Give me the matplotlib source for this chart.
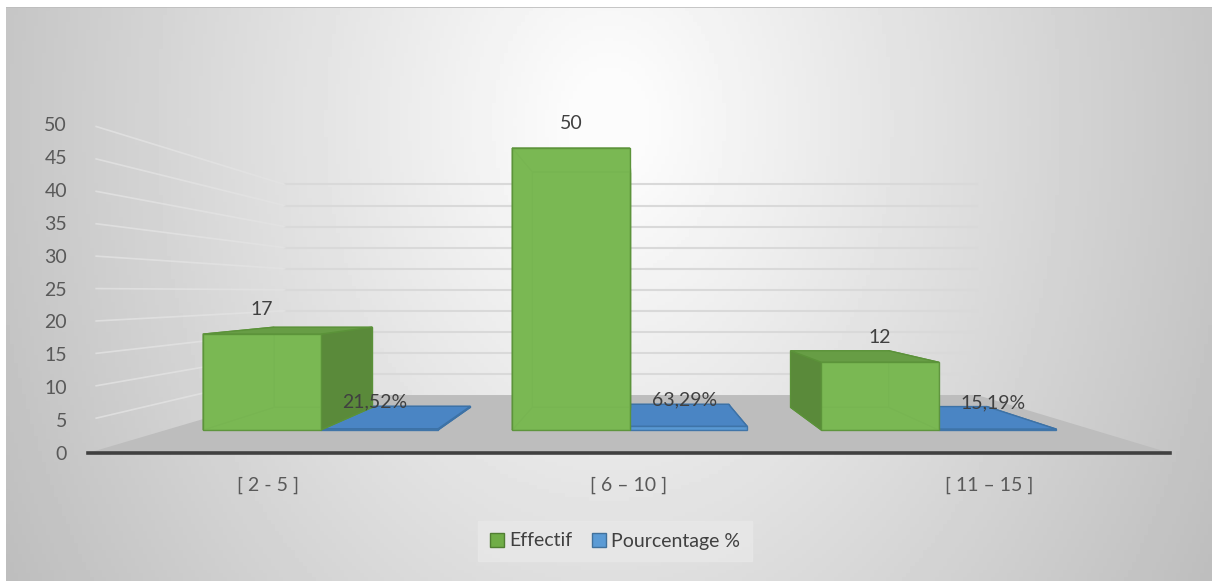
import numpy as np
import matplotlib.pyplot as plt

plt.rcParams['font.family'] = ['Lato', 'DejaVu Sans']

# data
categories = ['[ 2 - 5 ]', '[ 6 – 10 ]', '[ 11 – 15 ]']
effectif = [17, 50, 12]
pourcentage = [21.52, 63.29, 15.19]
series_names = ['Effectif', 'Pourcentage %']
yticks = [0, 5, 10, 15, 20, 25, 30, 35, 40, 45, 50]

# fake 3d: vanishing point in data units, depth factors
VP = (1.014, 24.47)
S_WALL = 0.64
S_FRONT = 0.857
S_BACK = 0.716
BW = 0.38

def proj(x, y, s):
    return (VP[0] + s * (x - VP[0]), VP[1] + s * (y - VP[1]))

def poly(ax, pts, fc, ec, alpha=1.0, z=3):
    xy = [proj(*p) for p in pts]
    ax.fill([p[0] for p in xy], [p[1] for p in xy], facecolor=fc, edgecolor=ec,
            lw=1.0, alpha=alpha, zorder=z, clip_on=False)

def box(ax, x0, x1, h, front, back, side, top, ec, z):
    sb, sf = S_BACK, S_FRONT
    poly(ax, [(x0, 0, sb), (x1, 0, sb), (x1, h, sb), (x0, h, sb)], back, ec, z=z)
    poly(ax, [(x0, 0, sb), (x1, 0, sb), (x1, 0, sf), (x0, 0, sf)], back, ec, z=z)
    # hidden side first, visible side after
    vis = x1 if x1 < VP[0] else x0
    for xs in sorted([x0, x1], key=lambda v: v == vis):
        poly(ax, [(xs, 0, sb), (xs, 0, sf), (xs, h, sf), (xs, h, sb)],
             side if xs == vis else back, ec, z=z)
    poly(ax, [(x0, h, sb), (x1, h, sb), (x1, h, sf), (x0, h, sf)],
         top if h < VP[1] else back, ec, z=z)
    poly(ax, [(x0, 0, sf), (x1, 0, sf), (x1, h, sf), (x0, h, sf)], front, ec, alpha=0.88, z=z)

fig = plt.figure(figsize=(12.12, 5.81), dpi=100)
fig.patch.set_facecolor('white')

# background gradient
bg = fig.add_axes([6 / 1212, 0, 1 - 6 / 1212, 1 - 7 / 581], zorder=-10)
gx, gy = np.meshgrid(np.linspace(0, 1, 300), np.linspace(0, 1, 150))
r = np.sqrt(((gx - 0.5) / 0.5) ** 2 + ((gy - 0.8) / 1.4) ** 2)
v = np.clip(255 - 57 * r, 190, 252) / 255
bg.imshow(v, cmap='gray', vmin=0, vmax=1, origin='lower', aspect='auto', extent=[0, 1, 0, 1])
bg.axhline(1, color='#bdbdbd', lw=1.2)
bg.axis('off')

ax = fig.add_axes([88 / 1212, 1 - 453 / 581, 1082 / 1212, 329 / 581])
ax.set_facecolor('none')
ax.set_xlim(-0.5, 2.5)
ax.set_ylim(0, 50)

# floor
xl, xr = -0.5, 2.5
poly(ax, [(xl, 0, 1.0), (xr, 0, 1.0), (xr, 0, S_WALL), (xl, 0, S_WALL)], '#bdbdbd', 'none', z=1)

# back wall and left wall grid lines
for t in yticks[1:]:
    a = proj(xl, t, S_WALL)
    b = proj(xr, t, S_WALL)
    ax.plot([a[0], b[0]], [a[1], b[1]], color='#d9d9d9', lw=1.5, zorder=1, clip_on=False)
    c = proj(xl, t, 0.985)
    ax.plot([c[0], a[0]], [c[1], a[1]], color='#e3e3e3', lw=1.2, alpha=0.8, zorder=1, clip_on=False)

# bars
for i, (e, p) in enumerate(zip(effectif, pourcentage)):
    ph = p / 100
    box(ax, i, i + BW, ph, '#5b9bd5', '#4f8bc9', '#3f75a8', '#4a85c4', '#3d72a6', z=3)
    box(ax, i - BW, i, e, '#7cba55', '#72b04c', '#5a8a3a', '#679d45', '#5b9239', z=4)
    fx, fy = proj(i - BW / 2, e, S_FRONT)
    ax.annotate(str(e), (fx, fy), xytext=(0, 18), textcoords='offset points',
                ha='center', va='center', fontsize=14, color='#404040', zorder=6,
                annotation_clip=False)
    bx, by = proj(i + BW / 2, ph, S_FRONT)
    ax.annotate(f'{p:.2f}%'.replace('.', ','), (bx, by), xytext=(-3, 19),
                textcoords='offset points', ha='center', va='center', fontsize=14,
                color='#404040', zorder=6, annotation_clip=False)

for sp in ['top', 'right', 'left']:
    ax.spines[sp].set_visible(False)
ax.spines['bottom'].set_color('#404040')
ax.spines['bottom'].set_linewidth(2.6)
ax.spines['bottom'].set_zorder(5)
ax.set_yticks(yticks)
ax.set_xticks(range(len(categories)), categories)
ax.tick_params(axis='y', length=0, pad=15, labelsize=14, labelcolor='#595959')
ax.tick_params(axis='x', length=0, pad=17, labelsize=14, labelcolor='#595959')

handles = [plt.Rectangle((0, 0), 1, 1, fc='#70ad47', ec='#507e32'),
           plt.Rectangle((0, 0), 1, 1, fc='#5b9bd5', ec='#41719c')]
leg = fig.legend(handles, series_names, loc='center', bbox_to_anchor=(615 / 1212, 1 - 541 / 581),
                 ncol=2, frameon=True, fontsize=14, handlelength=0.75, handleheight=0.75,
                 handletextpad=0.25, columnspacing=1.0, borderpad=0.6, fancybox=False)
leg.get_frame().set_facecolor('#e8e8e8')
leg.get_frame().set_edgecolor('#e8e8e8')
for t in leg.get_texts():
    t.set_color('#404040')

fig.savefig('out.png', dpi=100)
